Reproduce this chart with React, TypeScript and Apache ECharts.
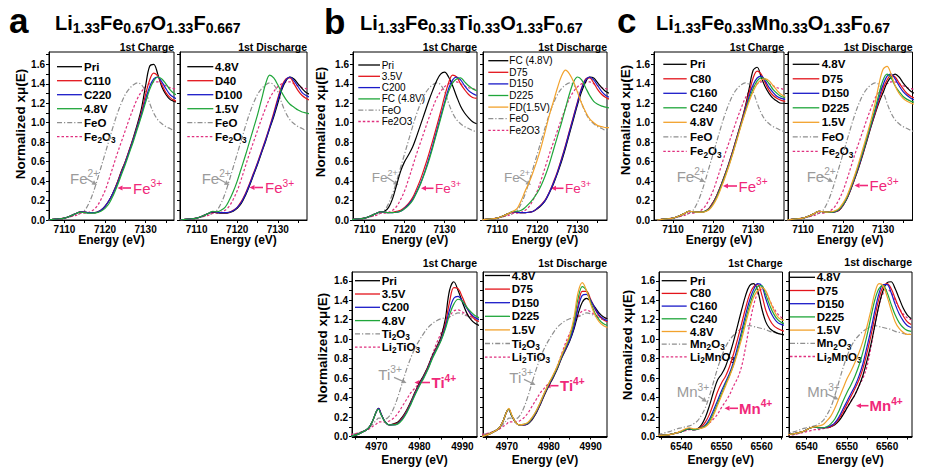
import React, { useEffect, useRef } from "react";
import * as echarts from "echarts";

const FONT = "'Liberation Sans', Arial, Helvetica, sans-serif";

// ---------------- energy grids (eV) ----------------
const FE_E = [7106, 7108, 7110, 7112, 7113, 7114, 7115, 7116, 7117, 7118, 7119, 7120, 7121, 7122, 7123, 7124, 7125, 7126, 7127, 7128, 7129, 7130, 7131, 7132, 7133, 7134, 7135, 7136, 7137, 7138];
const TI_E = [4964, 4966, 4968, 4969, 4970, 4970.5, 4971, 4972, 4973, 4974, 4975, 4976, 4977, 4978, 4979, 4980, 4981, 4982, 4983, 4984, 4985, 4986, 4987, 4988, 4989, 4990, 4991, 4992, 4993, 4994];
const MN_E = [6534, 6537, 6539, 6540, 6541, 6542, 6543, 6544, 6545, 6546, 6547, 6548, 6549, 6550, 6551, 6552, 6553, 6554, 6555, 6556, 6557, 6558, 6559, 6560, 6561, 6562, 6563, 6564, 6565, 6566];

// ---------------- tick values ----------------
const FE_TICK_LABELS = [7110, 7120, 7130];
const FE_TICKS = [7110, 7115, 7120, 7125, 7130, 7135];
const TI_TICK_LABELS = [4970, 4980, 4990];
const TI_TICKS = [4965, 4970, 4975, 4980, 4985, 4990];
const MN_TICK_LABELS = [6540, 6550, 6560];
const MN_TICKS = [6535, 6540, 6545, 6550, 6555, 6560, 6565];
const Y_TICK_LABELS = [0, 0.2, 0.4, 0.6, 0.8, 1.0, 1.2, 1.4, 1.6];
const Y_TICKS = [0, 0.1, 0.2, 0.3, 0.4, 0.5, 0.6, 0.7, 0.8, 0.9, 1.0, 1.1, 1.2, 1.3, 1.4, 1.5, 1.6, 1.7];

// ---------------- reference spectra ----------------
const FEO_REF = [0.0, 0.01, 0.02, 0.04, 0.05, 0.07, 0.1, 0.17, 0.27, 0.4, 0.54, 0.68, 0.82, 0.96, 1.09, 1.2, 1.29, 1.35, 1.39, 1.41, 1.39, 1.32, 1.2, 1.1, 1.03, 0.99, 0.96, 0.94, 0.92, 0.91];
const FE2O3_REF = [0.0, 0.01, 0.02, 0.04, 0.05, 0.07, 0.07, 0.08, 0.1, 0.14, 0.21, 0.3, 0.42, 0.55, 0.68, 0.8, 0.92, 1.04, 1.15, 1.25, 1.32, 1.37, 1.4, 1.42, 1.42, 1.4, 1.38, 1.36, 1.35, 1.34];
const TI2O3_REF = [0.02, 0.04, 0.08, 0.12, 0.17, 0.19, 0.19, 0.18, 0.21, 0.29, 0.41, 0.55, 0.69, 0.81, 0.91, 0.99, 1.06, 1.12, 1.16, 1.19, 1.21, 1.22, 1.23, 1.25, 1.27, 1.26, 1.24, 1.22, 1.2, 1.2];
const LI2TIO3_REF = [0.02, 0.04, 0.07, 0.1, 0.13, 0.15, 0.15, 0.15, 0.16, 0.19, 0.24, 0.31, 0.38, 0.45, 0.5, 0.55, 0.62, 0.72, 0.84, 0.96, 1.06, 1.15, 1.23, 1.29, 1.3, 1.28, 1.25, 1.23, 1.22, 1.21];
const MN2O3_REF = [0.02, 0.05, 0.08, 0.09, 0.1, 0.11, 0.13, 0.16, 0.22, 0.3, 0.42, 0.56, 0.7, 0.82, 0.92, 0.99, 1.04, 1.08, 1.11, 1.13, 1.14, 1.13, 1.12, 1.11, 1.1, 1.08, 1.07, 1.06, 1.05, 1.05];
const LI2MNO3_REF = [0.01, 0.02, 0.04, 0.05, 0.06, 0.07, 0.07, 0.08, 0.09, 0.11, 0.14, 0.18, 0.23, 0.3, 0.36, 0.43, 0.52, 0.6, 0.72, 0.92, 1.15, 1.35, 1.47, 1.51, 1.48, 1.4, 1.32, 1.26, 1.22, 1.2];

// ---------------- (a) Li1.33Fe0.67O1.33F0.667 ----------------
const A1_NAMES = ["Pri", "C110", "C220", "4.8V", "FeO", "Fe_{2}O_{3}"];
const A1_PRI = [0.0, 0.01, 0.02, 0.05, 0.07, 0.085, 0.08, 0.075, 0.075, 0.08, 0.1, 0.14, 0.2, 0.28, 0.38, 0.5, 0.6, 0.72, 0.85, 0.99, 1.15, 1.38, 1.58, 1.6, 1.5, 1.37, 1.29, 1.24, 1.22, 1.21];
const A1_C110 = [0.0, 0.01, 0.02, 0.05, 0.07, 0.085, 0.08, 0.075, 0.075, 0.08, 0.1, 0.14, 0.2, 0.28, 0.38, 0.49, 0.6, 0.72, 0.84, 0.97, 1.11, 1.29, 1.44, 1.51, 1.48, 1.39, 1.31, 1.26, 1.23, 1.22];
const A1_C220 = [0.0, 0.01, 0.02, 0.05, 0.07, 0.085, 0.08, 0.075, 0.075, 0.08, 0.1, 0.14, 0.2, 0.28, 0.37, 0.48, 0.59, 0.71, 0.83, 0.96, 1.09, 1.24, 1.37, 1.45, 1.47, 1.42, 1.35, 1.29, 1.26, 1.24];
const A1_48V = [0.0, 0.01, 0.02, 0.05, 0.07, 0.08, 0.075, 0.07, 0.07, 0.075, 0.09, 0.12, 0.17, 0.25, 0.35, 0.46, 0.57, 0.69, 0.81, 0.94, 1.07, 1.21, 1.34, 1.43, 1.47, 1.45, 1.4, 1.34, 1.3, 1.28];

const A2_NAMES = ["4.8V", "D40", "D100", "1.5V", "FeO", "Fe_{2}O_{3}"];
const A2_48V = [0.0, 0.01, 0.02, 0.05, 0.07, 0.08, 0.075, 0.07, 0.07, 0.075, 0.09, 0.12, 0.17, 0.25, 0.35, 0.46, 0.57, 0.69, 0.81, 0.94, 1.06, 1.2, 1.34, 1.43, 1.47, 1.45, 1.4, 1.35, 1.31, 1.29];
const A2_D40 = [0.0, 0.01, 0.02, 0.05, 0.07, 0.085, 0.08, 0.075, 0.075, 0.08, 0.1, 0.13, 0.19, 0.27, 0.37, 0.48, 0.59, 0.71, 0.83, 0.96, 1.1, 1.25, 1.38, 1.45, 1.46, 1.4, 1.33, 1.28, 1.25, 1.23];
const A2_D100 = [0.0, 0.01, 0.02, 0.05, 0.07, 0.085, 0.08, 0.075, 0.075, 0.08, 0.095, 0.13, 0.18, 0.26, 0.36, 0.47, 0.58, 0.7, 0.82, 0.95, 1.08, 1.23, 1.36, 1.44, 1.47, 1.43, 1.37, 1.31, 1.28, 1.26];
const A2_15V = [0.0, 0.01, 0.02, 0.05, 0.07, 0.09, 0.085, 0.1, 0.13, 0.2, 0.29, 0.4, 0.53, 0.66, 0.8, 0.94, 1.08, 1.24, 1.4, 1.49, 1.46, 1.39, 1.31, 1.24, 1.19, 1.16, 1.13, 1.11, 1.1, 1.09];

// ---------------- (b) Li1.33Fe0.33Ti0.33O1.33F0.67, Fe K-edge ----------------
const B1_NAMES = ["Pri", "3.5V", "C200", "FC (4.8V)", "FeO", "Fe2O3"];
const B1_PRI = [0.0, 0.01, 0.02, 0.05, 0.07, 0.085, 0.09, 0.13, 0.22, 0.36, 0.5, 0.6, 0.67, 0.75, 0.86, 0.98, 1.1, 1.22, 1.33, 1.43, 1.5, 1.52, 1.47, 1.38, 1.27, 1.17, 1.1, 1.05, 1.01, 0.99];
const B1_35V = [0.0, 0.01, 0.02, 0.05, 0.07, 0.085, 0.08, 0.075, 0.08, 0.09, 0.1, 0.13, 0.17, 0.23, 0.32, 0.42, 0.54, 0.67, 0.81, 0.96, 1.11, 1.27, 1.41, 1.49, 1.47, 1.4, 1.34, 1.29, 1.26, 1.25];
const B1_C200 = [0.0, 0.01, 0.02, 0.05, 0.07, 0.085, 0.08, 0.075, 0.075, 0.08, 0.09, 0.12, 0.16, 0.21, 0.29, 0.38, 0.49, 0.62, 0.76, 0.91, 1.06, 1.21, 1.35, 1.44, 1.47, 1.44, 1.38, 1.33, 1.3, 1.28];
const B1_FC = [0.0, 0.01, 0.02, 0.05, 0.07, 0.085, 0.08, 0.075, 0.075, 0.08, 0.09, 0.115, 0.15, 0.2, 0.28, 0.37, 0.48, 0.6, 0.74, 0.89, 1.04, 1.19, 1.32, 1.41, 1.45, 1.46, 1.42, 1.38, 1.35, 1.33];

const B2_NAMES = ["FC (4.8V)", "D75", "D150", "D225", "FD(1.5V)", "FeO", "Fe2O3"];
const B2_FC = [0.0, 0.01, 0.02, 0.05, 0.07, 0.085, 0.08, 0.075, 0.075, 0.08, 0.09, 0.115, 0.15, 0.2, 0.28, 0.37, 0.48, 0.6, 0.74, 0.89, 1.04, 1.19, 1.32, 1.42, 1.47, 1.46, 1.41, 1.36, 1.32, 1.3];
const B2_D75 = [0.0, 0.01, 0.02, 0.05, 0.07, 0.085, 0.08, 0.075, 0.075, 0.08, 0.09, 0.12, 0.16, 0.21, 0.29, 0.39, 0.5, 0.63, 0.77, 0.92, 1.07, 1.22, 1.36, 1.45, 1.46, 1.41, 1.34, 1.29, 1.26, 1.24];
const B2_D150 = [0.0, 0.01, 0.02, 0.05, 0.07, 0.085, 0.08, 0.075, 0.075, 0.08, 0.09, 0.12, 0.155, 0.205, 0.285, 0.38, 0.49, 0.62, 0.76, 0.91, 1.06, 1.21, 1.35, 1.44, 1.47, 1.44, 1.38, 1.32, 1.28, 1.26];
const B2_D225 = [0.0, 0.01, 0.02, 0.05, 0.07, 0.09, 0.09, 0.1, 0.13, 0.17, 0.22, 0.28, 0.36, 0.46, 0.58, 0.72, 0.86, 1.0, 1.15, 1.3, 1.42, 1.47, 1.44, 1.36, 1.28, 1.22, 1.19, 1.17, 1.16, 1.15];
const B2_FD = [0.0, 0.01, 0.02, 0.05, 0.07, 0.09, 0.12, 0.2, 0.3, 0.39, 0.5, 0.62, 0.76, 0.92, 1.08, 1.22, 1.36, 1.48, 1.54, 1.5, 1.42, 1.31, 1.2, 1.11, 1.04, 1.0, 0.97, 0.96, 0.95, 0.95];

// ---------------- (b) Ti K-edge ----------------
const B3_NAMES = ["Pri", "3.5V", "C200", "4.8V", "Ti_{2}O_{3}", "Li_{2}TiO_{3}"];
const B3_PRI = [0.0, 0.03, 0.08, 0.15, 0.26, 0.29, 0.24, 0.15, 0.12, 0.13, 0.15, 0.2, 0.27, 0.36, 0.46, 0.55, 0.63, 0.72, 0.83, 0.92, 1.02, 1.2, 1.5, 1.59, 1.5, 1.38, 1.27, 1.2, 1.16, 1.14];
const B3_35V = [0.0, 0.03, 0.08, 0.15, 0.26, 0.29, 0.24, 0.15, 0.12, 0.125, 0.14, 0.19, 0.26, 0.35, 0.45, 0.54, 0.62, 0.71, 0.82, 0.91, 1.0, 1.15, 1.38, 1.53, 1.52, 1.43, 1.33, 1.25, 1.2, 1.18];
const B3_C200 = [0.0, 0.03, 0.08, 0.15, 0.26, 0.29, 0.24, 0.15, 0.12, 0.12, 0.135, 0.18, 0.25, 0.34, 0.44, 0.53, 0.61, 0.7, 0.81, 0.9, 0.99, 1.12, 1.3, 1.42, 1.44, 1.39, 1.32, 1.26, 1.22, 1.2];
const B3_48V = [0.0, 0.03, 0.08, 0.15, 0.26, 0.28, 0.23, 0.15, 0.12, 0.12, 0.13, 0.17, 0.24, 0.33, 0.43, 0.52, 0.6, 0.69, 0.8, 0.89, 0.98, 1.1, 1.25, 1.36, 1.41, 1.39, 1.33, 1.28, 1.24, 1.22];

const B4_NAMES = ["4.8V", "D75", "D150", "D225", "1.5V", "Ti_{2}O_{3}", "Li_{2}TiO_{3}"];
const B4_48V = [0.0, 0.03, 0.08, 0.15, 0.26, 0.28, 0.23, 0.15, 0.12, 0.12, 0.13, 0.17, 0.24, 0.33, 0.43, 0.52, 0.6, 0.69, 0.8, 0.89, 0.98, 1.1, 1.26, 1.38, 1.42, 1.39, 1.33, 1.27, 1.23, 1.21];
const B4_D75 = [0.0, 0.03, 0.08, 0.15, 0.26, 0.28, 0.23, 0.15, 0.12, 0.12, 0.135, 0.18, 0.25, 0.34, 0.44, 0.53, 0.61, 0.7, 0.81, 0.9, 1.0, 1.14, 1.35, 1.49, 1.49, 1.41, 1.31, 1.24, 1.2, 1.18];
const B4_D150 = [0.0, 0.03, 0.08, 0.15, 0.26, 0.28, 0.23, 0.15, 0.12, 0.12, 0.135, 0.18, 0.25, 0.34, 0.44, 0.53, 0.61, 0.7, 0.81, 0.9, 0.99, 1.12, 1.32, 1.45, 1.46, 1.4, 1.32, 1.25, 1.21, 1.19];
const B4_D225 = [0.0, 0.03, 0.08, 0.15, 0.26, 0.28, 0.23, 0.15, 0.12, 0.125, 0.14, 0.19, 0.26, 0.35, 0.45, 0.54, 0.62, 0.71, 0.82, 0.92, 1.02, 1.18, 1.42, 1.54, 1.5, 1.38, 1.27, 1.2, 1.16, 1.14];
const B4_15V = [0.0, 0.03, 0.08, 0.15, 0.26, 0.29, 0.24, 0.15, 0.12, 0.125, 0.145, 0.195, 0.265, 0.355, 0.455, 0.545, 0.63, 0.72, 0.83, 0.93, 1.04, 1.22, 1.48, 1.58, 1.5, 1.36, 1.25, 1.18, 1.14, 1.12];

// ---------------- (c) Li1.33Fe0.33Mn0.33O1.33F0.67, Fe K-edge ----------------
const C1_NAMES = ["Pri", "C80", "C160", "C240", "4.8V", "FeO", "Fe_{2}O_{3}"];
const C1_PRI = [0.0, 0.01, 0.02, 0.05, 0.07, 0.09, 0.085, 0.08, 0.08, 0.09, 0.12, 0.18, 0.26, 0.36, 0.47, 0.59, 0.72, 0.86, 1.0, 1.16, 1.35, 1.54, 1.57, 1.47, 1.37, 1.3, 1.25, 1.22, 1.2, 1.2];
const C1_C80 = [0.0, 0.01, 0.02, 0.05, 0.07, 0.09, 0.085, 0.08, 0.08, 0.09, 0.12, 0.18, 0.26, 0.36, 0.47, 0.59, 0.72, 0.86, 1.0, 1.15, 1.31, 1.46, 1.53, 1.5, 1.41, 1.33, 1.28, 1.25, 1.23, 1.22];
const C1_C160 = [0.0, 0.01, 0.02, 0.05, 0.07, 0.09, 0.085, 0.08, 0.08, 0.09, 0.115, 0.17, 0.25, 0.35, 0.46, 0.58, 0.71, 0.85, 0.99, 1.13, 1.27, 1.39, 1.46, 1.48, 1.43, 1.36, 1.31, 1.27, 1.25, 1.24];
const C1_C240 = [0.0, 0.01, 0.02, 0.05, 0.07, 0.09, 0.085, 0.08, 0.08, 0.09, 0.11, 0.165, 0.245, 0.345, 0.455, 0.57, 0.7, 0.84, 0.98, 1.11, 1.24, 1.35, 1.43, 1.46, 1.45, 1.4, 1.34, 1.3, 1.27, 1.26];
const C1_48V = [0.0, 0.01, 0.02, 0.05, 0.07, 0.09, 0.085, 0.08, 0.08, 0.085, 0.105, 0.155, 0.23, 0.33, 0.44, 0.56, 0.69, 0.83, 0.97, 1.1, 1.22, 1.32, 1.4, 1.44, 1.45, 1.43, 1.38, 1.33, 1.29, 1.27];

const C2_NAMES = ["4.8V", "D75", "D150", "D225", "1.5V", "FeO", "Fe_{2}O_{3}"];
const C2_48V = [0.0, 0.01, 0.02, 0.05, 0.07, 0.09, 0.085, 0.08, 0.08, 0.085, 0.1, 0.15, 0.22, 0.32, 0.43, 0.55, 0.68, 0.82, 0.96, 1.09, 1.21, 1.31, 1.41, 1.47, 1.5, 1.47, 1.41, 1.36, 1.32, 1.3];
const C2_D75 = [0.0, 0.01, 0.02, 0.05, 0.07, 0.09, 0.085, 0.08, 0.08, 0.085, 0.1, 0.15, 0.225, 0.325, 0.44, 0.56, 0.69, 0.83, 0.97, 1.1, 1.23, 1.35, 1.44, 1.49, 1.47, 1.41, 1.35, 1.3, 1.27, 1.25];
const C2_D150 = [0.0, 0.01, 0.02, 0.05, 0.07, 0.09, 0.085, 0.08, 0.08, 0.085, 0.105, 0.155, 0.23, 0.33, 0.445, 0.565, 0.7, 0.84, 0.98, 1.12, 1.26, 1.39, 1.48, 1.5, 1.45, 1.38, 1.32, 1.28, 1.25, 1.23];
const C2_D225 = [0.0, 0.01, 0.02, 0.05, 0.07, 0.09, 0.085, 0.08, 0.08, 0.09, 0.11, 0.16, 0.235, 0.34, 0.455, 0.58, 0.71, 0.85, 0.99, 1.14, 1.3, 1.44, 1.5, 1.46, 1.38, 1.32, 1.27, 1.24, 1.22, 1.21];
const C2_15V = [0.0, 0.01, 0.02, 0.05, 0.07, 0.09, 0.085, 0.08, 0.085, 0.095, 0.12, 0.175, 0.25, 0.355, 0.47, 0.6, 0.74, 0.88, 1.03, 1.2, 1.4, 1.55, 1.58, 1.5, 1.38, 1.3, 1.25, 1.22, 1.2, 1.19];

// ---------------- (c) Mn K-edge ----------------
const C3_NAMES = ["Pri", "C80", "C160", "C240", "4.8V", "Mn_{2}O_{3}", "Li_{2}MnO_{3}"];
const C3_PRI = [0.01, 0.02, 0.04, 0.05, 0.07, 0.075, 0.07, 0.08, 0.12, 0.2, 0.32, 0.46, 0.58, 0.64, 0.72, 0.84, 0.98, 1.14, 1.3, 1.45, 1.55, 1.57, 1.5, 1.32, 1.18, 1.11, 1.08, 1.06, 1.05, 1.04];
const C3_C80 = [0.01, 0.02, 0.04, 0.05, 0.07, 0.08, 0.07, 0.075, 0.1, 0.15, 0.23, 0.34, 0.46, 0.55, 0.62, 0.72, 0.85, 1.0, 1.16, 1.32, 1.46, 1.54, 1.56, 1.46, 1.3, 1.2, 1.14, 1.11, 1.09, 1.08];
const C3_C160 = [0.01, 0.02, 0.04, 0.05, 0.07, 0.08, 0.07, 0.075, 0.09, 0.12, 0.18, 0.27, 0.37, 0.47, 0.56, 0.65, 0.77, 0.92, 1.08, 1.25, 1.4, 1.51, 1.57, 1.55, 1.42, 1.3, 1.22, 1.17, 1.15, 1.14];
const C3_C240 = [0.01, 0.02, 0.04, 0.05, 0.07, 0.08, 0.07, 0.075, 0.09, 0.11, 0.16, 0.24, 0.34, 0.44, 0.54, 0.63, 0.74, 0.88, 1.04, 1.2, 1.35, 1.47, 1.54, 1.55, 1.46, 1.35, 1.26, 1.2, 1.17, 1.16];
const C3_48V = [0.01, 0.02, 0.04, 0.06, 0.08, 0.09, 0.08, 0.08, 0.085, 0.1, 0.14, 0.22, 0.32, 0.42, 0.52, 0.62, 0.73, 0.86, 1.0, 1.16, 1.31, 1.43, 1.5, 1.53, 1.5, 1.4, 1.3, 1.23, 1.2, 1.19];

const C4_NAMES = ["4.8V", "D75", "D150", "D225", "1.5V", "Mn_{2}O_{3}", "Li_{2}MnO_{3}"];
const C4_48V = [0.01, 0.03, 0.05, 0.07, 0.09, 0.1, 0.09, 0.09, 0.09, 0.1, 0.12, 0.16, 0.22, 0.29, 0.36, 0.43, 0.52, 0.63, 0.78, 0.95, 1.15, 1.35, 1.5, 1.58, 1.59, 1.52, 1.42, 1.32, 1.25, 1.21];
const C4_D75 = [0.01, 0.03, 0.05, 0.07, 0.09, 0.1, 0.09, 0.09, 0.09, 0.1, 0.13, 0.18, 0.25, 0.33, 0.41, 0.49, 0.58, 0.7, 0.86, 1.04, 1.24, 1.42, 1.54, 1.57, 1.52, 1.42, 1.32, 1.24, 1.18, 1.15];
const C4_D150 = [0.01, 0.03, 0.05, 0.07, 0.09, 0.1, 0.09, 0.09, 0.095, 0.11, 0.14, 0.2, 0.28, 0.36, 0.44, 0.52, 0.62, 0.75, 0.92, 1.1, 1.3, 1.47, 1.56, 1.56, 1.48, 1.36, 1.26, 1.19, 1.14, 1.12];
const C4_D225 = [0.01, 0.03, 0.05, 0.07, 0.09, 0.1, 0.09, 0.09, 0.1, 0.13, 0.18, 0.26, 0.36, 0.45, 0.53, 0.62, 0.73, 0.87, 1.04, 1.23, 1.41, 1.52, 1.55, 1.48, 1.36, 1.25, 1.17, 1.12, 1.09, 1.08];
const C4_15V = [0.01, 0.03, 0.05, 0.07, 0.09, 0.1, 0.11, 0.12, 0.16, 0.21, 0.29, 0.39, 0.49, 0.59, 0.67, 0.76, 0.86, 0.98, 1.13, 1.3, 1.48, 1.57, 1.55, 1.44, 1.3, 1.18, 1.11, 1.07, 1.05, 1.05];

// ---------------- styling ----------------
const SAMPLE_COLORS = ["#000000", "#e3141b", "#1a1ac8", "#1fa63a", "#f2a22c"];
const GRAY = "#8f8f8f";
const PINK = "#e0307f";
const DASHDOT = [5, 2, 1.2, 2];
const DOTTED = [2.5, 2];
const ANNO_GRAY = "#9b9b9b";
const MAGENTA = "#f0287a";

type Curve = { name: string; color: string; dash: number[] | null; y: number[] };

function makeCurves(names: string[], samples: number[][], refs: number[][]): Curve[] {
  const out: Curve[] = [];
  samples.forEach((y, i) => out.push({ name: names[i], color: SAMPLE_COLORS[i], dash: null, y }));
  out.push({ name: names[samples.length], color: GRAY, dash: DASHDOT, y: refs[0] });
  out.push({ name: names[samples.length + 1], color: PINK, dash: DOTTED, y: refs[1] });
  return out;
}

type Panel = {
  grid: [number, number, number, number];
  xr: [number, number];
  yr: [number, number];
  E: number[];
  xl: number[];
  xt: number[];
  showY: boolean;
  curves: Curve[];
  lg: { lx: number; lw: number; tx: number; y0: number; dy: number; fs: number; fw: string };
  sub: string;
  subY: number;
};

const LG_TOP = { lx: 8, lw: 25, tx: 35, y0: 14.7, dy: 14, fs: 11.5, fw: "bold" };

const PANELS: Panel[] = [
  { grid: [49, 52, 125, 168], xr: [7106.2, 7137.0], yr: [0, 1.727], E: FE_E, xl: FE_TICK_LABELS, xt: FE_TICKS, showY: true,
    curves: makeCurves(A1_NAMES, [A1_PRI, A1_C110, A1_C220, A1_48V], [FEO_REF, FE2O3_REF]),
    lg: LG_TOP, sub: "1st Charge", subY: 47 },
  { grid: [180, 52, 127, 168], xr: [7105.9, 7137.2], yr: [0, 1.727], E: FE_E, xl: FE_TICK_LABELS, xt: FE_TICKS, showY: false,
    curves: makeCurves(A2_NAMES, [A2_48V, A2_D40, A2_D100, A2_15V], [FEO_REF, FE2O3_REF]),
    lg: { lx: 7.3, lw: 26, tx: 35, y0: 14.7, dy: 14, fs: 11.5, fw: "bold" }, sub: "1st Discharge", subY: 47 },
  { grid: [353, 52, 124, 168], xr: [7107.1, 7138.1], yr: [0, 1.727], E: FE_E, xl: FE_TICK_LABELS, xt: FE_TICKS, showY: true,
    curves: makeCurves(B1_NAMES, [B1_PRI, B1_35V, B1_C200, B1_FC], [FEO_REF, FE2O3_REF]),
    lg: { lx: 5.3, lw: 21.7, tx: 28.7, y0: 13, dy: 11.3, fs: 10, fw: "normal" }, sub: "1st Charge", subY: 47 },
  { grid: [483, 52, 124, 168], xr: [7106.5, 7137.3], yr: [0, 1.727], E: FE_E, xl: FE_TICK_LABELS, xt: FE_TICKS, showY: false,
    curves: makeCurves(B2_NAMES, [B2_FC, B2_D75, B2_D150, B2_D225, B2_FD], [FEO_REF, FE2O3_REF]),
    lg: { lx: 5.3, lw: 20, tx: 26.3, y0: 8.7, dy: 11.6, fs: 10, fw: "normal" }, sub: "1st Discharge", subY: 47 },
  { grid: [654, 52, 130, 168], xr: [7105.25, 7137.7], yr: [0, 1.727], E: FE_E, xl: FE_TICK_LABELS, xt: FE_TICKS, showY: true,
    curves: makeCurves(C1_NAMES, [C1_PRI, C1_C80, C1_C160, C1_C240, C1_48V], [FEO_REF, FE2O3_REF]),
    lg: { lx: 9.3, lw: 23.4, tx: 36, y0: 12.3, dy: 14.5, fs: 11.5, fw: "bold" }, sub: "1st Charge", subY: 47 },
  { grid: [788, 52, 124.5, 168], xr: [7106.25, 7137.35], yr: [0, 1.727], E: FE_E, xl: FE_TICK_LABELS, xt: FE_TICKS, showY: false,
    curves: makeCurves(C2_NAMES, [C2_48V, C2_D75, C2_D150, C2_D225, C2_15V], [FEO_REF, FE2O3_REF]),
    lg: { lx: 4.7, lw: 26.6, tx: 33.7, y0: 12.3, dy: 14.5, fs: 11.5, fw: "bold" }, sub: "1st Discharge", subY: 47 },
  { grid: [352, 272, 125, 165.5], xr: [4964.3, 4993.4], yr: [-0.01, 1.69], E: TI_E, xl: TI_TICK_LABELS, xt: TI_TICKS, showY: true,
    curves: makeCurves(B3_NAMES, [B3_PRI, B3_35V, B3_C200, B3_48V], [TI2O3_REF, LI2TIO3_REF]),
    lg: { lx: 3, lw: 25, tx: 29.7, y0: 8.7, dy: 13.3, fs: 11.5, fw: "bold" }, sub: "1st Charge", subY: 263 },
  { grid: [483, 272, 124, 165.5], xr: [4964.3, 4993.9], yr: [-0.01, 1.69], E: TI_E, xl: TI_TICK_LABELS, xt: TI_TICKS, showY: false,
    curves: makeCurves(B4_NAMES, [B4_48V, B4_D75, B4_D150, B4_D225, B4_15V], [TI2O3_REF, LI2TIO3_REF]),
    lg: { lx: 2, lw: 25, tx: 28.7, y0: 3.5, dy: 13.6, fs: 11.5, fw: "bold" }, sub: "1st Discharge", subY: 263 },
  { grid: [659, 272, 123.5, 165.5], xr: [6534.4, 6565.2], yr: [-0.01, 1.69], E: MN_E, xl: MN_TICK_LABELS, xt: MN_TICKS, showY: true,
    curves: makeCurves(C3_NAMES, [C3_PRI, C3_C80, C3_C160, C3_C240, C3_48V], [MN2O3_REF, LI2MNO3_REF]),
    lg: { lx: 2.7, lw: 25, tx: 31, y0: 8.7, dy: 12.7, fs: 11.5, fw: "bold" }, sub: "1st Charge", subY: 263 },
  { grid: [789, 272, 123, 165.5], xr: [6535.6, 6566.2], yr: [-0.01, 1.69], E: MN_E, xl: MN_TICK_LABELS, xt: MN_TICKS, showY: false,
    curves: makeCurves(C4_NAMES, [C4_48V, C4_D75, C4_D150, C4_D225, C4_15V], [MN2O3_REF, LI2MNO3_REF]),
    lg: { lx: 1, lw: 25, tx: 27.7, y0: 5.3, dy: 13.2, fs: 11.5, fw: "bold" }, sub: "1st discharge", subY: 261.5 },
];

// ---------------- rich text helpers ----------------
function toRich(label: string): string {
  const re = /([_^])\{([^}]*)\}/g;
  let out = "";
  let last = 0;
  let m: RegExpExecArray | null;
  while ((m = re.exec(label))) {
    if (m.index > last) out += `{n|${label.slice(last, m.index)}}`;
    out += `{${m[1] === "_" ? "s" : "p"}|${m[2]}}`;
    last = re.lastIndex;
  }
  if (last < label.length) out += `{n|${label.slice(last)}}`;
  return out;
}

function richStyles(fs: number, fw: string, sfs: number, subDrop: number, supRise: number) {
  const H = fs + 4;
  return {
    n: { fontSize: fs, fontWeight: fw, fontFamily: FONT, lineHeight: H, verticalAlign: "middle" },
    s: { fontSize: sfs, fontWeight: fw, fontFamily: FONT, lineHeight: Math.max(1, H - 2 * subDrop), verticalAlign: "bottom" },
    p: { fontSize: sfs, fontWeight: fw, fontFamily: FONT, lineHeight: Math.max(1, H - 2 * supRise), verticalAlign: "top" },
  };
}

function richText(x: number, y: number, label: string, color: string, fs: number, fw: string, sfs: number, subDrop: number, supRise: number, align = "left") {
  return {
    type: "text",
    x,
    y,
    silent: true,
    style: {
      text: toRich(label),
      fill: color,
      align,
      verticalAlign: "middle",
      rich: richStyles(fs, fw, sfs, subDrop, supRise),
    },
  };
}

function plainText(x: number, y: number, text: string, fs: number, fw: string, align: string, extra: any = {}) {
  return {
    type: "text",
    x,
    y,
    silent: true,
    ...extra,
    style: { text, fill: "#000", fontSize: fs, fontWeight: fw, fontFamily: FONT, align, verticalAlign: "middle" },
  };
}

function arrow(x1: number, y1: number, x2: number, y2: number, color: string, head = 5, width = 1.2) {
  const dx = x2 - x1;
  const dy = y2 - y1;
  const len = Math.sqrt(dx * dx + dy * dy);
  const ux = dx / len;
  const uy = dy / len;
  const bx = x2 - ux * head;
  const by = y2 - uy * head;
  const hw = head * 0.5;
  return [
    { type: "line", silent: true, shape: { x1, y1, x2: bx, y2: by }, style: { stroke: color, lineWidth: width } },
    {
      type: "polygon",
      silent: true,
      shape: { points: [[x2, y2], [bx - uy * hw, by + ux * hw], [bx + uy * hw, by - ux * hw]] },
      style: { fill: color },
    },
  ];
}

// annotation placements (page pixels)
const ANNOTATIONS = [
  { g: ["Fe^{2+}", 70, 178], ga: [86.5, 178.5, 97, 185], m: ["Fe^{3+}", 133, 188], ma: [131, 188, 117.5, 188], fw: "normal", fs: 15 },
  { g: ["Fe^{2+}", 201.7, 178], ga: [218, 178.5, 229.5, 185], m: ["Fe^{3+}", 265, 187.5], ma: [263, 187.5, 249.5, 187.5], fw: "normal", fs: 15 },
  { g: ["Fe^{2+}", 371.7, 177], ga: [386.5, 177, 398.5, 185], m: ["Fe^{3+}", 435, 188.3], ma: [433.5, 188.3, 421, 188.3], fw: "normal", fs: 13.5 },
  { g: ["Fe^{2+}", 504, 177], ga: [519, 177, 531, 185], m: ["Fe^{3+}", 565, 188.3], ma: [563.5, 188.3, 551, 188.3], fw: "normal", fs: 13.5 },
  { g: ["Fe^{2+}", 676.7, 176], ga: [692, 175.5, 705, 182], m: ["Fe^{3+}", 738.5, 186], ma: [737, 186, 723, 186], fw: "normal", fs: 15 },
  { g: ["Fe^{2+}", 806.7, 176], ga: [821, 175.5, 833, 182], m: ["Fe^{3+}", 869.5, 185.5], ma: [868, 185.5, 854.5, 185.5], fw: "normal", fs: 15 },
  { g: ["Ti^{3+}", 378.3, 374], ga: [394, 377.3, 406.5, 383], m: ["Ti^{4+}", 431.5, 382.5], ma: [430, 382.5, 414.5, 382.5], fw: "bold", fs: 15 },
  { g: ["Ti^{3+}", 509.3, 377], ga: [524, 379.3, 535.5, 385], m: ["Ti^{4+}", 560, 385.7], ma: [558.5, 385.7, 545.5, 385.7], fw: "bold", fs: 15 },
  { g: ["Mn^{3+}", 676.7, 391.7], ga: [698.5, 396, 707, 402], m: ["Mn^{4+}", 739, 408.3], ma: [738, 408.3, 724.5, 408.3], fw: "bold", fs: 15 },
  { g: ["Mn^{3+}", 807.3, 391.7], ga: [827, 394, 838.5, 399.5], m: ["Mn^{4+}", 869.5, 405.7], ma: [868.5, 405.7, 856, 405.7], fw: "bold", fs: 15 },
];

const TITLES = [
  { letter: "a", lx: 9, ly: 20, tx: 55, ty: 22.5, text: "Li_{1.33}Fe_{0.67}O_{1.33}F_{0.667}" },
  { letter: "b", lx: 324, ly: 21, tx: 360, ty: 22.5, text: "Li_{1.33}Fe_{0.33}Ti_{0.33}O_{1.33}F_{0.67}" },
  { letter: "c", lx: 617, ly: 20, tx: 656, ty: 22.5, text: "Li_{1.33}Fe_{0.33}Mn_{0.33}O_{1.33}F_{0.67}" },
];

const YNAMES = [
  [20, 124], [320, 122], [625, 120], [322, 348], [627, 345],
];

function buildOption() {
  const grid: any[] = [];
  const xAxis: any[] = [];
  const yAxis: any[] = [];
  const series: any[] = [];
  const graphic: any[] = [];

  PANELS.forEach((p, i) => {
    const [left, top, width, height] = p.grid;
    grid.push({ left, top, width, height, show: true, borderColor: "#000", borderWidth: 1, backgroundColor: "transparent", outerBoundsMode: "none" });
    xAxis.push({
      type: "value",
      gridIndex: i,
      min: p.xr[0],
      max: p.xr[1],
      axisLine: { show: true, lineStyle: { color: "#000", width: 1 } },
      axisTick: { show: true, inside: false, length: 3, customValues: p.xt, lineStyle: { color: "#000", width: 1 } },
      axisLabel: {
        show: true,
        customValues: p.xl,
        formatter: (v: number) => String(Math.round(v)),
        fontSize: 10,
        fontWeight: "bold",
        color: "#000",
        fontFamily: FONT,
        margin: 4,
      },
      splitLine: { show: false },
    });
    yAxis.push({
      type: "value",
      gridIndex: i,
      min: p.yr[0],
      max: p.yr[1],
      axisLine: { show: true, lineStyle: { color: "#000", width: 1 } },
      axisTick: { show: true, inside: false, length: 3, customValues: Y_TICKS, lineStyle: { color: "#000", width: 1 } },
      axisLabel: {
        show: p.showY,
        customValues: Y_TICK_LABELS,
        formatter: (v: number) => v.toFixed(1),
        fontSize: 10,
        fontWeight: "bold",
        color: "#000",
        fontFamily: FONT,
        margin: 4,
      },
      splitLine: { show: false },
    });

    // references first, then samples on top
    const ordered = [...p.curves.slice(-2), ...p.curves.slice(0, -2)];
    ordered.forEach((c) => {
      series.push({
        type: "line",
        name: `${i}-${c.name}`,
        xAxisIndex: i,
        yAxisIndex: i,
        data: p.E.map((x, k) => [x, c.y[k]]),
        showSymbol: false,
        symbol: "none",
        smooth: 0.35,
        clip: true,
        silent: true,
        lineStyle: { color: c.color, width: 1.2, type: c.dash ? c.dash : "solid" },
        itemStyle: { color: c.color },
      });
    });

    // legend (drawn as graphic)
    p.curves.forEach((c, k) => {
      const y = top + p.lg.y0 + k * p.lg.dy;
      graphic.push({
        type: "line",
        silent: true,
        shape: { x1: left + p.lg.lx, y1: y, x2: left + p.lg.lx + p.lg.lw, y2: y },
        style: { stroke: c.color, lineWidth: 1.3, lineDash: c.dash || undefined },
      });
      graphic.push(richText(left + p.lg.tx, y, c.name, "#000", p.lg.fs, p.lg.fw, p.lg.fs * 0.72, 3, 4));
    });

    // subtitle
    graphic.push(plainText(left + width, p.subY, p.sub, 10.5, "bold", "right"));
    // x axis name
    const isTop = top < 100;
    graphic.push(plainText(left + width / 2, isTop ? 240 : 460, "Energy (eV)", 12, "bold", "center"));
  });

  YNAMES.forEach(([x, y]) => {
    graphic.push(plainText(x, y, "Normalized xμ(E)", 13.5, "bold", "center", { rotation: Math.PI / 2 }));
  });

  TITLES.forEach((t) => {
    graphic.push({
      type: "text",
      x: t.lx,
      y: t.ly,
      silent: true,
      style: { text: t.letter, fill: "#000", fontSize: 35, lineHeight: 34, fontWeight: "bold", fontFamily: FONT, align: "left", verticalAlign: "middle" },
    });
    graphic.push(richText(t.tx, t.ty, t.text, "#000", 20, "bold", 14, 4, 4));
  });

  ANNOTATIONS.forEach((a) => {
    const [gt, gx, gy] = a.g as [string, number, number];
    const [mt, mx, my] = a.m as [string, number, number];
    graphic.push(richText(gx, gy, gt, ANNO_GRAY, a.fs, "normal", a.fs * 0.68, 3, 6));
    graphic.push(...arrow(a.ga[0], a.ga[1], a.ga[2], a.ga[3], ANNO_GRAY, 5, 1.3));
    graphic.push(richText(mx, my, mt, MAGENTA, a.fs, a.fw, a.fs * 0.68, 3, 6));
    graphic.push(...arrow(a.ma[0], a.ma[1], a.ma[2], a.ma[3], MAGENTA, 5, 1.6));
  });

  return {
    animation: false,
    backgroundColor: "#ffffff",
    grid,
    xAxis,
    yAxis,
    series,
    graphic: { elements: graphic },
  };
}

export default function App() {
  const ref = useRef<HTMLDivElement>(null);
  useEffect(() => {
    if (!ref.current) return;
    const chart = echarts.init(ref.current, null, { renderer: "svg", width: 926, height: 474 });
    chart.setOption(buildOption() as any);
    return () => chart.dispose();
  }, []);
  return (
    <div
      ref={ref}
      style={{ position: "absolute", left: 0, top: 0, width: 926, height: 474, background: "#fff" }}
    />
  );
}
